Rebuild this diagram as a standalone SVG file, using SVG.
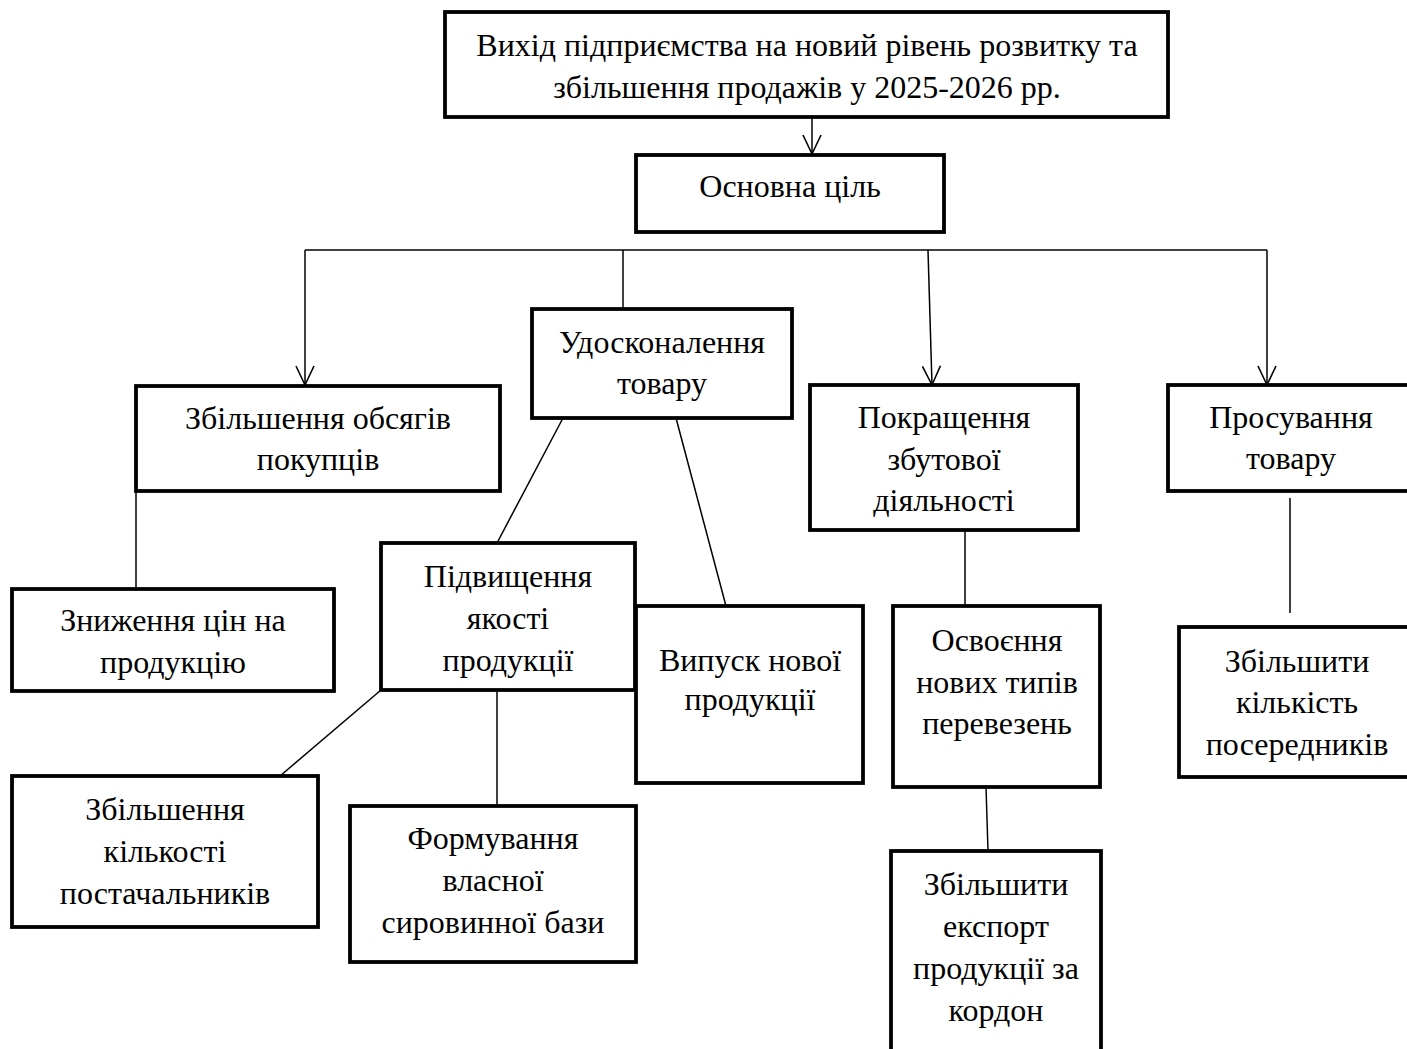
<svg xmlns="http://www.w3.org/2000/svg" width="1407" height="1049" viewBox="0 0 1407 1049">
<defs>
<style>
.box{fill:#fff;stroke:#000;stroke-width:3.8;stroke-linejoin:miter}
.t{font-family:"Liberation Serif","Times New Roman","DejaVu Serif",serif;font-size:32px;fill:#000;text-anchor:middle}
.c{stroke:#000;stroke-width:1.5;fill:none}
</style>
<marker id="arr" markerUnits="userSpaceOnUse" viewBox="0 0 22 22" refX="20" refY="11" markerWidth="22" markerHeight="22" orient="auto">
<path d="M1,2 L20,11 L1,20" fill="none" stroke="#000" stroke-width="1.6"/>
</marker>
</defs>
<rect width="1407" height="1049" fill="#fff"/>
<g id="connectors">
<line class="c" x1="812" y1="117" x2="812" y2="154" marker-end="url(#arr)"/>
<line class="c" x1="305" y1="250" x2="1267" y2="250"/>
<line class="c" x1="305" y1="250" x2="305" y2="385" marker-end="url(#arr)"/>
<line class="c" x1="623" y1="250" x2="623" y2="309"/>
<line class="c" x1="928" y1="250" x2="932" y2="385" marker-end="url(#arr)"/>
<line class="c" x1="1267" y1="250" x2="1267" y2="385" marker-end="url(#arr)"/>
<line class="c" x1="136" y1="492" x2="136" y2="589"/>
<line class="c" x1="563" y1="418" x2="497" y2="543"/>
<line class="c" x1="676" y1="418" x2="726" y2="606"/>
<line class="c" x1="381" y1="690" x2="280" y2="776"/>
<line class="c" x1="497" y1="690" x2="497" y2="806"/>
<line class="c" x1="965" y1="530" x2="965" y2="606"/>
<line class="c" x1="986" y1="787" x2="988" y2="851"/>
<line class="c" x1="1290" y1="498" x2="1290" y2="613"/>
</g>
<g font-family="Liberation Serif, serif">
<g id="n1"><rect class="box" x="445" y="12" width="723" height="105"/>
<text class="t" x="807" y="56">Вихід підприємства на новий рівень розвитку та</text>
<text class="t" x="807" y="98">збільшення продажів у 2025-2026 рр.</text></g>
<g id="n2"><rect class="box" x="636" y="155" width="308" height="77"/>
<text class="t" x="790" y="197">Основна ціль</text></g>
<g id="n3"><rect class="box" x="136" y="386" width="364" height="105"/>
<text class="t" x="318" y="429">Збільшення обсягів</text>
<text class="t" x="318" y="470">покупців</text></g>
<g id="n4"><rect class="box" x="532" y="309" width="260" height="109"/>
<text class="t" x="662" y="353">Удосконалення</text>
<text class="t" x="662" y="394">товару</text></g>
<g id="n5"><rect class="box" x="810" y="385" width="268" height="145"/>
<text class="t" x="944" y="428">Покращення</text>
<text class="t" x="944" y="470">збутової</text>
<text class="t" x="944" y="511">діяльності</text></g>
<g id="n6"><rect class="box" x="1168" y="385" width="246" height="106"/>
<text class="t" x="1291" y="428">Просування</text>
<text class="t" x="1291" y="469">товару</text></g>
<g id="n7"><rect class="box" x="12" y="589" width="322" height="102"/>
<text class="t" x="173" y="631">Зниження цін на</text>
<text class="t" x="173" y="673">продукцію</text></g>
<g id="n8"><rect class="box" x="381" y="543" width="254" height="147"/>
<text class="t" x="508" y="587">Підвищення</text>
<text class="t" x="508" y="629">якості</text>
<text class="t" x="508" y="671">продукції</text></g>
<g id="n9"><rect class="box" x="636" y="606" width="227" height="177"/>
<text class="t" x="750" y="671">Випуск нової</text>
<text class="t" x="750" y="710">продукції</text></g>
<g id="n10"><rect class="box" x="12" y="776" width="306" height="151"/>
<text class="t" x="165" y="820">Збільшення</text>
<text class="t" x="165" y="862">кількості</text>
<text class="t" x="165" y="904">постачальників</text></g>
<g id="n11"><rect class="box" x="350" y="806" width="286" height="156"/>
<text class="t" x="493" y="849">Формування</text>
<text class="t" x="493" y="891">власної</text>
<text class="t" x="493" y="933">сировинної бази</text></g>
<g id="n12"><rect class="box" x="893" y="606" width="207" height="181"/>
<text class="t" x="997" y="651">Освоєння</text>
<text class="t" x="997" y="693">нових типів</text>
<text class="t" x="997" y="734">перевезень</text></g>
<g id="n13"><rect class="box" x="891" y="851" width="210" height="215"/>
<text class="t" x="996" y="895">Збільшити</text>
<text class="t" x="996" y="937">експорт</text>
<text class="t" x="996" y="979">продукції за</text>
<text class="t" x="996" y="1021">кордон</text></g>
<g id="n14"><rect class="box" x="1179" y="627" width="235" height="150"/>
<text class="t" x="1297" y="672">Збільшити</text>
<text class="t" x="1297" y="713">кількість</text>
<text class="t" x="1297" y="755">посередників</text></g>
</g>
</svg>
